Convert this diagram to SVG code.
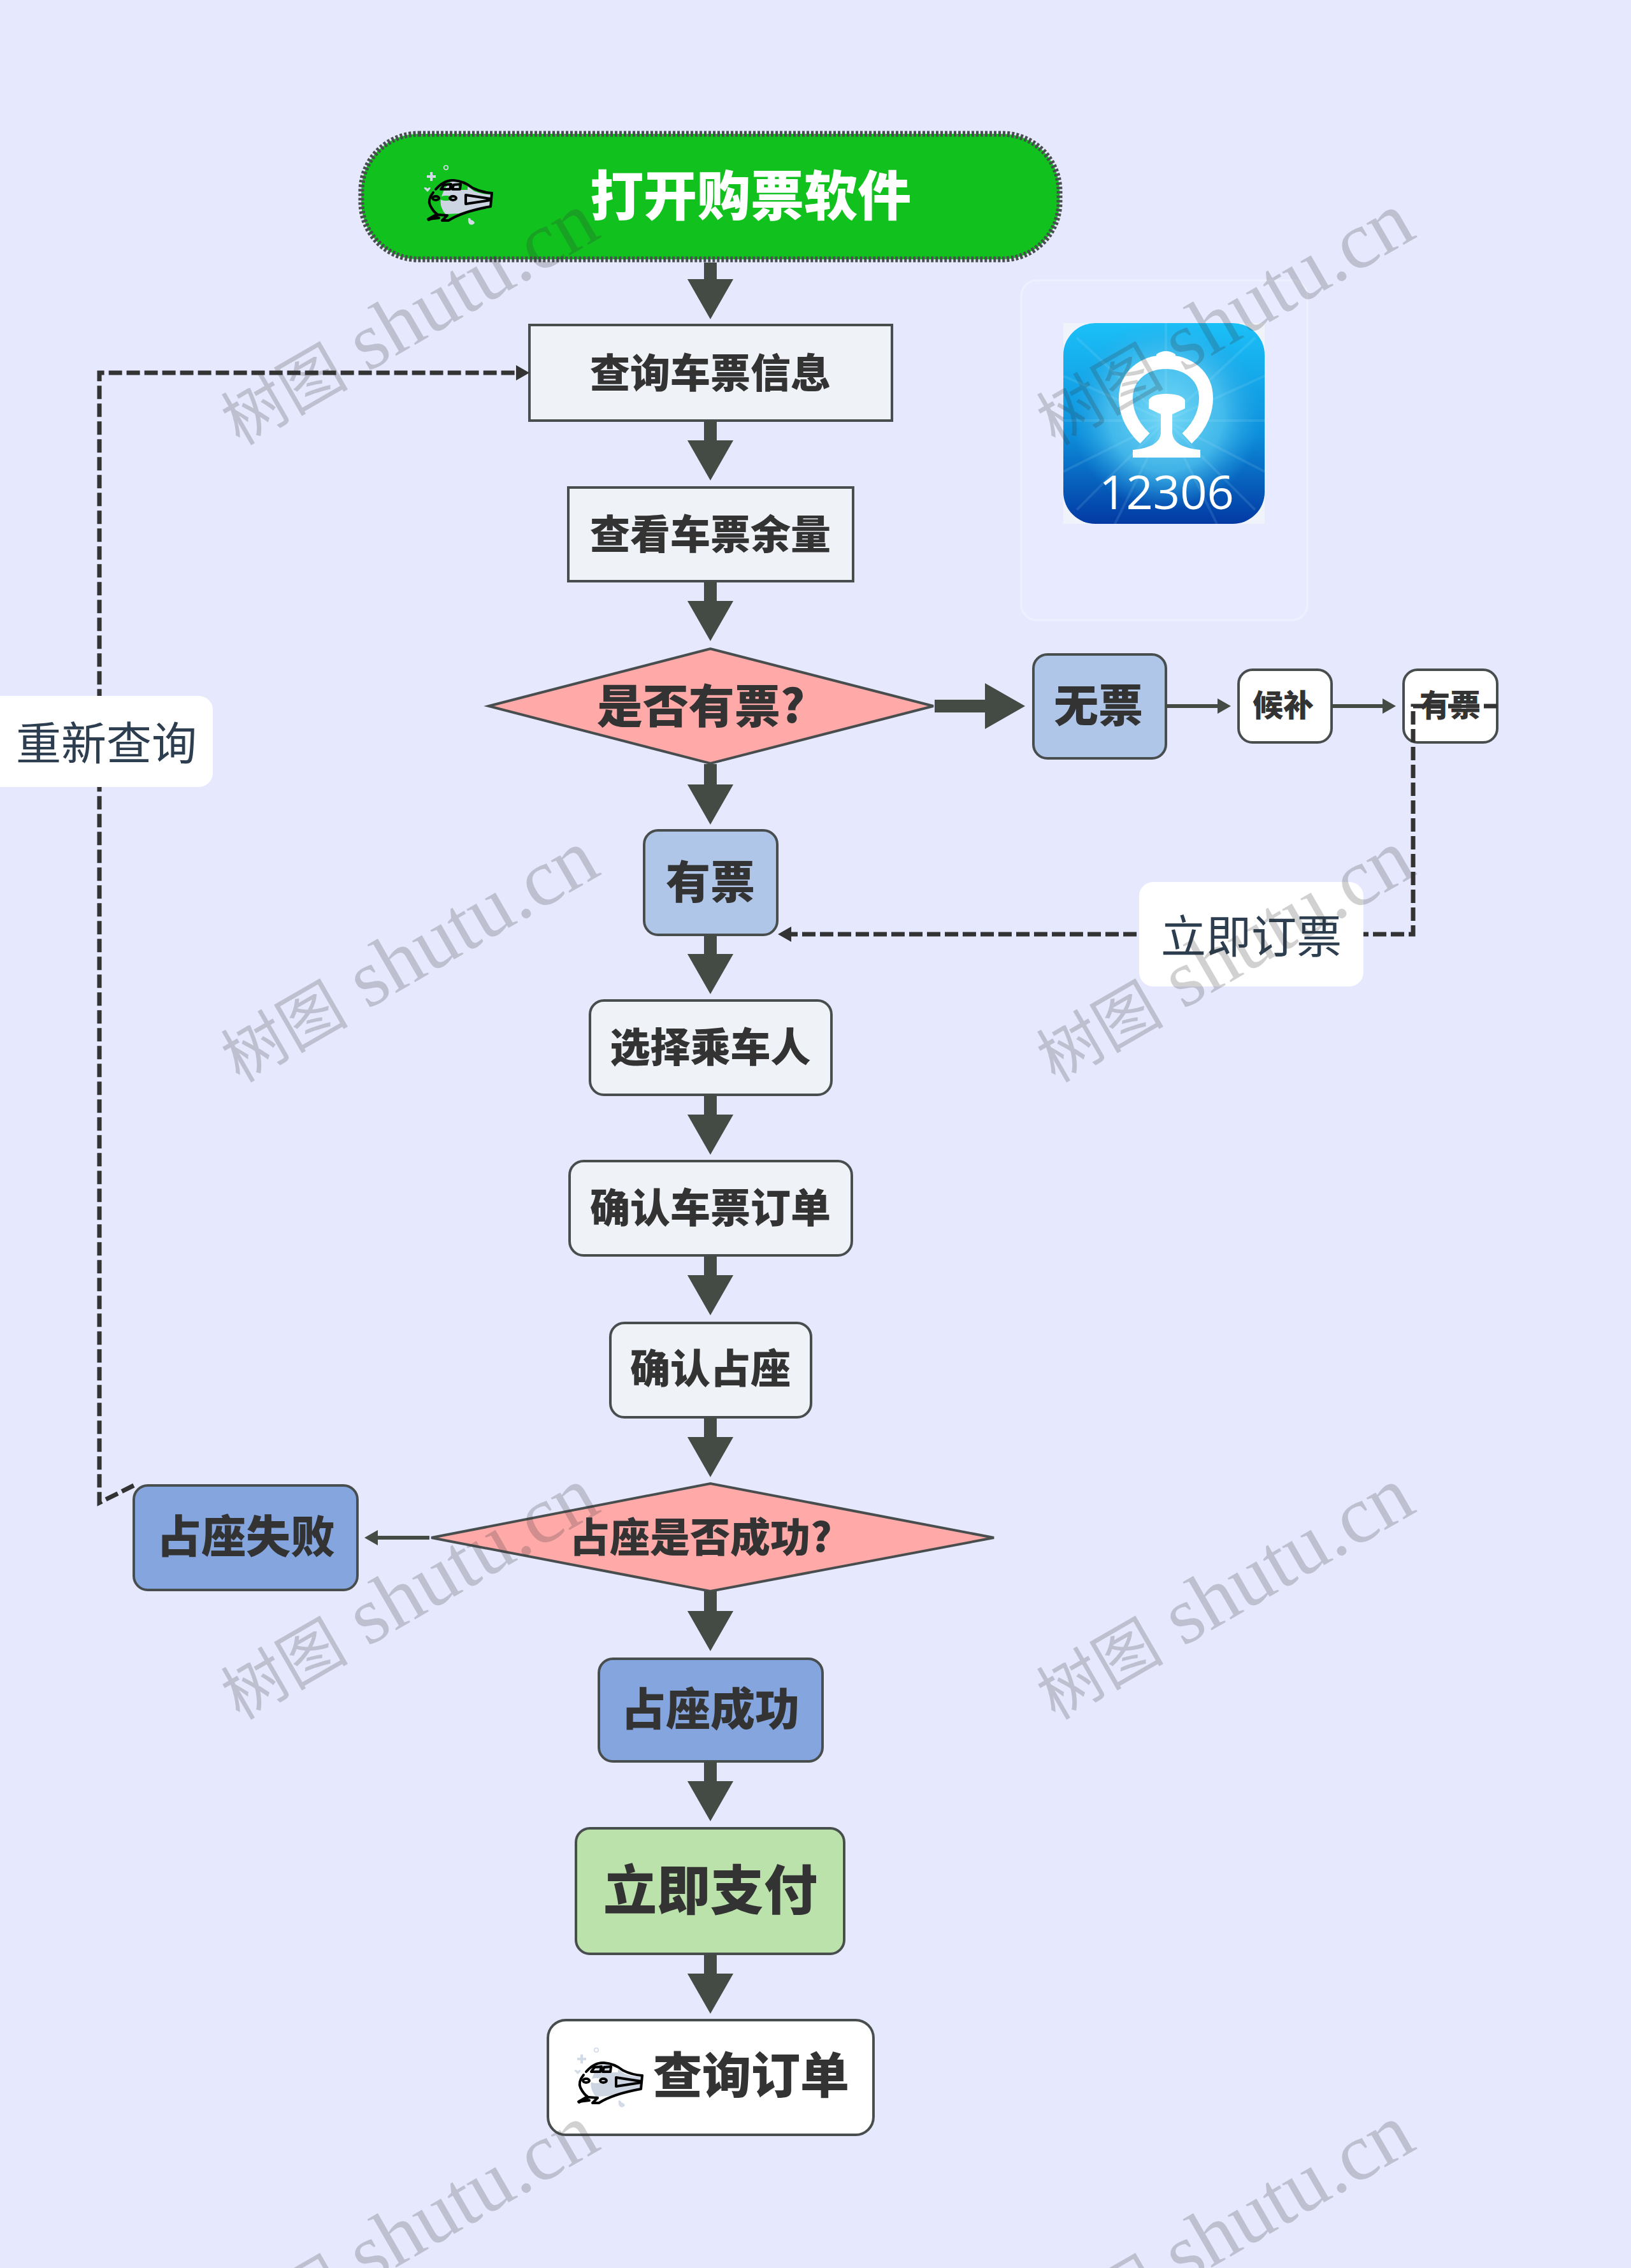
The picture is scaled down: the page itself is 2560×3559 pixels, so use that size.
<svg xmlns="http://www.w3.org/2000/svg" width="2560" height="3559" viewBox="0 0 2560 3559">
<style>
.n{stroke:#484d4e;stroke-width:4}
.t{font-family:"Noto Sans CJK SC","Liberation Sans",sans-serif;font-weight:900;fill:#333;text-anchor:middle;dominant-baseline:central}
.lab{font-family:"Noto Sans CJK SC","Liberation Sans",sans-serif;font-weight:400;font-size:71px;fill:#2c3e50;text-anchor:middle;dominant-baseline:central}
.big{fill:none;stroke:#444b45;stroke-width:20;marker-end:url(#ah)}
.sm{fill:none;stroke:#444b45;stroke-width:6;marker-end:url(#as)}
.da{fill:none;stroke:#333;stroke-width:7;stroke-dasharray:21 7;marker-end:url(#ad)}
.wm{font-family:"Liberation Serif","Noto Sans CJK SC",serif;font-size:127px;fill:#333;opacity:.22}
.wc{font-size:100px}
.tl{fill:none;stroke:#000;stroke-width:4;stroke-linecap:round;stroke-linejoin:round}
</style>
<defs>
<marker id="ah" markerUnits="userSpaceOnUse" markerWidth="64" markerHeight="72" refX="0" refY="36" orient="auto"><path d="M0 0L63 36L0 72Z" fill="#444b45"/></marker>
<marker id="as" markerUnits="userSpaceOnUse" markerWidth="22" markerHeight="26" refX="0" refY="13" orient="auto"><path d="M0 1L21 13L0 25Z" fill="#444b45"/></marker>
<marker id="ad" markerUnits="userSpaceOnUse" markerWidth="22" markerHeight="26" refX="0" refY="13" orient="auto"><path d="M0 1L21 13L0 25Z" fill="#333"/></marker>
<linearGradient id="lg" x1="0" y1="0" x2="0" y2="1"><stop offset="0" stop-color="#1bc0f8"/><stop offset=".55" stop-color="#0d8fdb"/><stop offset="1" stop-color="#0239a3"/></linearGradient>
<radialGradient id="rg" cx="1830" cy="650" r="150" gradientUnits="userSpaceOnUse"><stop offset="0" stop-color="#74d8f6"/><stop offset=".6" stop-color="#4fc3ef" stop-opacity=".8"/><stop offset="1" stop-color="#2aa8e6" stop-opacity="0"/></radialGradient>
<symbol id="train" viewBox="0 0 110 72" overflow="visible">
<path d="M68 3Q90 9 102 20Q118 26 130 25L128 43Q100 48 78 55L57 56Q46 42 51 28Q56 12 68 3Z" fill="#cdd4e2"/>
<path d="M76 8L92 8L92 18L80 18Z" fill="currentColor"/>
<ellipse cx="58" cy="31" rx="10" ry="4" fill="currentColor"/>
<path class="tl" d="M42 17Q55 2 70 3Q86 4 100 15Q114 22 130 23"/>
<path class="tl" d="M38 22Q29 33 33 42Q38 52 44 56L30 64L47 62L38 60"/>
<path class="tl" d="M31 65L46 57L60 58L52 66L62 66Q84 52 128 44L130 23"/>
<path class="tl" d="M50 17L55 10L66 9L64 17Z M68 17L70 10L81 9L80 17Z"/>
<ellipse class="tl" cx="42" cy="31" rx="5" ry="3"/><ellipse class="tl" cx="69" cy="31" rx="5" ry="3"/>
<path class="tl" d="M89 26L128 32L128 34L89 40Z"/>
<path d="M35 -10V4M28 -3H42" stroke="#d3dbe8" stroke-width="4" fill="none"/>
<circle cx="58" cy="-17" r="3.2" fill="none" stroke="#d3dbe8" stroke-width="1.6"/>
<path d="M26 18Q21 14 26 14Q28 15 29 16Q30 15 32 14Q35 14 32 18L29 21Z" fill="#d3dbe8"/>
<path d="M95 72Q92 68 93 62Q97 62 97 65Q102 66 103 70Q100 74 95 72Z" fill="#d3dbe8"/>
</symbol>
</defs>
<rect width="2560" height="3559" fill="#e6e9fe"/>

<g id="card"><rect x="1603" y="440" width="449" height="533" rx="24" fill="#e8ebff" stroke="#eef0ff" stroke-width="3"/></g>
<g id="logo">
<rect x="1669" y="507" width="316" height="315" fill="#f1f3fb"/>
<rect x="1669" y="507" width="316" height="315" rx="50" fill="url(#lg)"/>
<rect x="1669" y="507" width="316" height="315" rx="50" fill="url(#rg)"/>
<path d="M1830 507V660M1669 660H1985M1690 530L1830 660L1970 530M1690 800L1830 660L1970 800M1669 590L1830 660L1985 590M1669 740L1830 660L1985 740M1750 822L1830 660L1910 822" stroke="#bdeeff" stroke-width="4" opacity=".12" fill="none"/>
<path d="M1797 688C1772 665 1767 640 1767 625C1767 590 1795 568 1830 568C1865 568 1893 590 1893 625C1893 640 1888 665 1863 688" fill="none" stroke="#fff" stroke-width="22"/>
<path d="M1815 556Q1822 551 1830 551Q1838 551 1845 556V570H1815Z" fill="#fff"/>
<path d="M1803 641V628Q1808 618 1830 618Q1855 618 1860 628V641L1840 650V680Q1842 702 1884 706V718H1778V706Q1820 702 1822 680V650Z" fill="#fff"/>
<text x="1831" y="799" font-family="'Open Sans','Liberation Sans',sans-serif" font-size="74" fill="#fff" text-anchor="middle" font-weight="400">12306</text>
</g>

<g id="node-start">
<rect x="567" y="210" width="1096" height="197" rx="90" fill="#11c11e" stroke="#484d4e" stroke-width="9" stroke-dasharray="4 3"/>
<use href="#train" x="642" y="280" width="110" height="72" style="color:#11c11e"/>
<text class="t" x="1178" y="301" font-size="84" style="fill:#fff">打开购票软件</text>
</g>
<g id="node-query"><rect class="n" x="831" y="510" width="569" height="150" fill="#eff2f7"/><text class="t" x="1115" y="580" font-size="63">查询车票信息</text></g>
<g id="node-check"><rect class="n" x="892" y="765" width="447" height="147" fill="#eff2f7"/><text class="t" x="1115" y="833" font-size="63">查看车票余量</text></g>
<g id="node-d1"><path class="n" d="M767 1108L1115 1018L1465 1108L1115 1198Z" fill="#ffa9a9"/><text class="t" x="1100" y="1102" font-size="72">是否有票?</text></g>
<g id="node-none"><rect class="n" x="1622" y="1027" width="208" height="163" rx="22" fill="#afc6e9"/><text class="t" x="1724" y="1102" font-size="70">无票</text></g>
<g id="node-wait"><rect class="n" x="1944" y="1051" width="146" height="114" rx="22" fill="#fff"/><text class="t" x="2014" y="1103" font-size="48">候补</text></g>
<g id="node-has2"><rect class="n" x="2203" y="1051" width="147" height="114" rx="22" fill="#fff"/><text class="t" x="2276" y="1103" font-size="48">有票</text></g>
<g id="node-has"><rect class="n" x="1011" y="1303" width="209" height="164" rx="22" fill="#afc6e9"/><text class="t" x="1115" y="1379" font-size="70">有票</text></g>
<g id="node-person"><rect class="n" x="926" y="1570" width="379" height="148" rx="22" fill="#eff2f7"/><text class="t" x="1115" y="1638" font-size="63">选择乘车人</text></g>
<g id="node-confirm"><rect class="n" x="894" y="1822" width="443" height="148" rx="22" fill="#eff2f7"/><text class="t" x="1115" y="1890" font-size="63">确认车票订单</text></g>
<g id="node-seat"><rect class="n" x="958" y="2076" width="315" height="148" rx="22" fill="#eff2f7"/><text class="t" x="1115" y="2142" font-size="63">确认占座</text></g>
<g id="node-d2"><path class="n" d="M677 2413L1115 2328L1560 2413L1115 2497Z" fill="#ffa9a9"/><text class="t" x="1100" y="2407" font-size="63">占座是否成功?</text></g>
<g id="node-fail"><rect class="n" x="210" y="2331" width="351" height="164" rx="22" fill="#85a5df"/><text class="t" x="386" y="2406" font-size="70">占座失败</text></g>
<g id="node-ok"><rect class="n" x="940" y="2603" width="351" height="161" rx="22" fill="#85a5df"/><text class="t" x="1115" y="2677" font-size="70">占座成功</text></g>
<g id="node-pay"><rect class="n" x="904" y="2869" width="421" height="197" rx="22" fill="#bce2ac"/><text class="t" x="1115" y="2960" font-size="84">立即支付</text></g>
<g id="node-order"><rect class="n" x="860" y="3170" width="511" height="180" rx="28" fill="#fff"/>
<use href="#train" x="878" y="3234" width="110" height="72" style="color:#fff"/>
<text class="t" x="1179" y="3251" font-size="77">查询订单</text></g>

<g id="connectors">
<path class="big" d="M1115 412V438"/>
<path class="big" d="M1115 660V691"/>
<path class="big" d="M1115 912V943"/>
<path class="big" d="M1115 1199V1231"/>
<path class="big" d="M1115 1467V1497"/>
<path class="big" d="M1115 1718V1749"/>
<path class="big" d="M1115 1970V2001"/>
<path class="big" d="M1115 2224V2255"/>
<path class="big" d="M1115 2497V2528"/>
<path class="big" d="M1115 2764V2795"/>
<path class="big" d="M1115 3066V3097"/>
<path class="big" d="M1467 1108H1546"/>
<path class="sm" d="M1830 1108H1911"/>
<path class="sm" d="M2090 1108H2170"/>
<path class="sm" d="M674 2413H593"/>
<path class="da" d="M2350 1108H2218V1466H1242"/>
<path class="da" d="M210 2331L156 2358V585H810"/>
</g>

<g id="label-retry"><rect x="-20" y="1092" width="354" height="143" rx="22" fill="#fff"/><text class="lab" x="167" y="1161">重新查询</text></g>
<g id="label-book"><rect x="1788" y="1384" width="352" height="164" rx="22" fill="#fff"/><text class="lab" x="1964" y="1464">立即订票</text></g>

<g id="watermark">
<text class="wm" transform="translate(376 700) rotate(-30)"><tspan class="wc">树图</tspan> shutu.cn</text>
<text class="wm" transform="translate(1656 700) rotate(-30)"><tspan class="wc">树图</tspan> shutu.cn</text>
<text class="wm" transform="translate(376 1700) rotate(-30)"><tspan class="wc">树图</tspan> shutu.cn</text>
<text class="wm" transform="translate(1656 1700) rotate(-30)"><tspan class="wc">树图</tspan> shutu.cn</text>
<text class="wm" transform="translate(376 2700) rotate(-30)"><tspan class="wc">树图</tspan> shutu.cn</text>
<text class="wm" transform="translate(1656 2700) rotate(-30)"><tspan class="wc">树图</tspan> shutu.cn</text>
<text class="wm" transform="translate(376 3700) rotate(-30)"><tspan class="wc">树图</tspan> shutu.cn</text>
<text class="wm" transform="translate(1656 3700) rotate(-30)"><tspan class="wc">树图</tspan> shutu.cn</text>
</g>
</svg>
